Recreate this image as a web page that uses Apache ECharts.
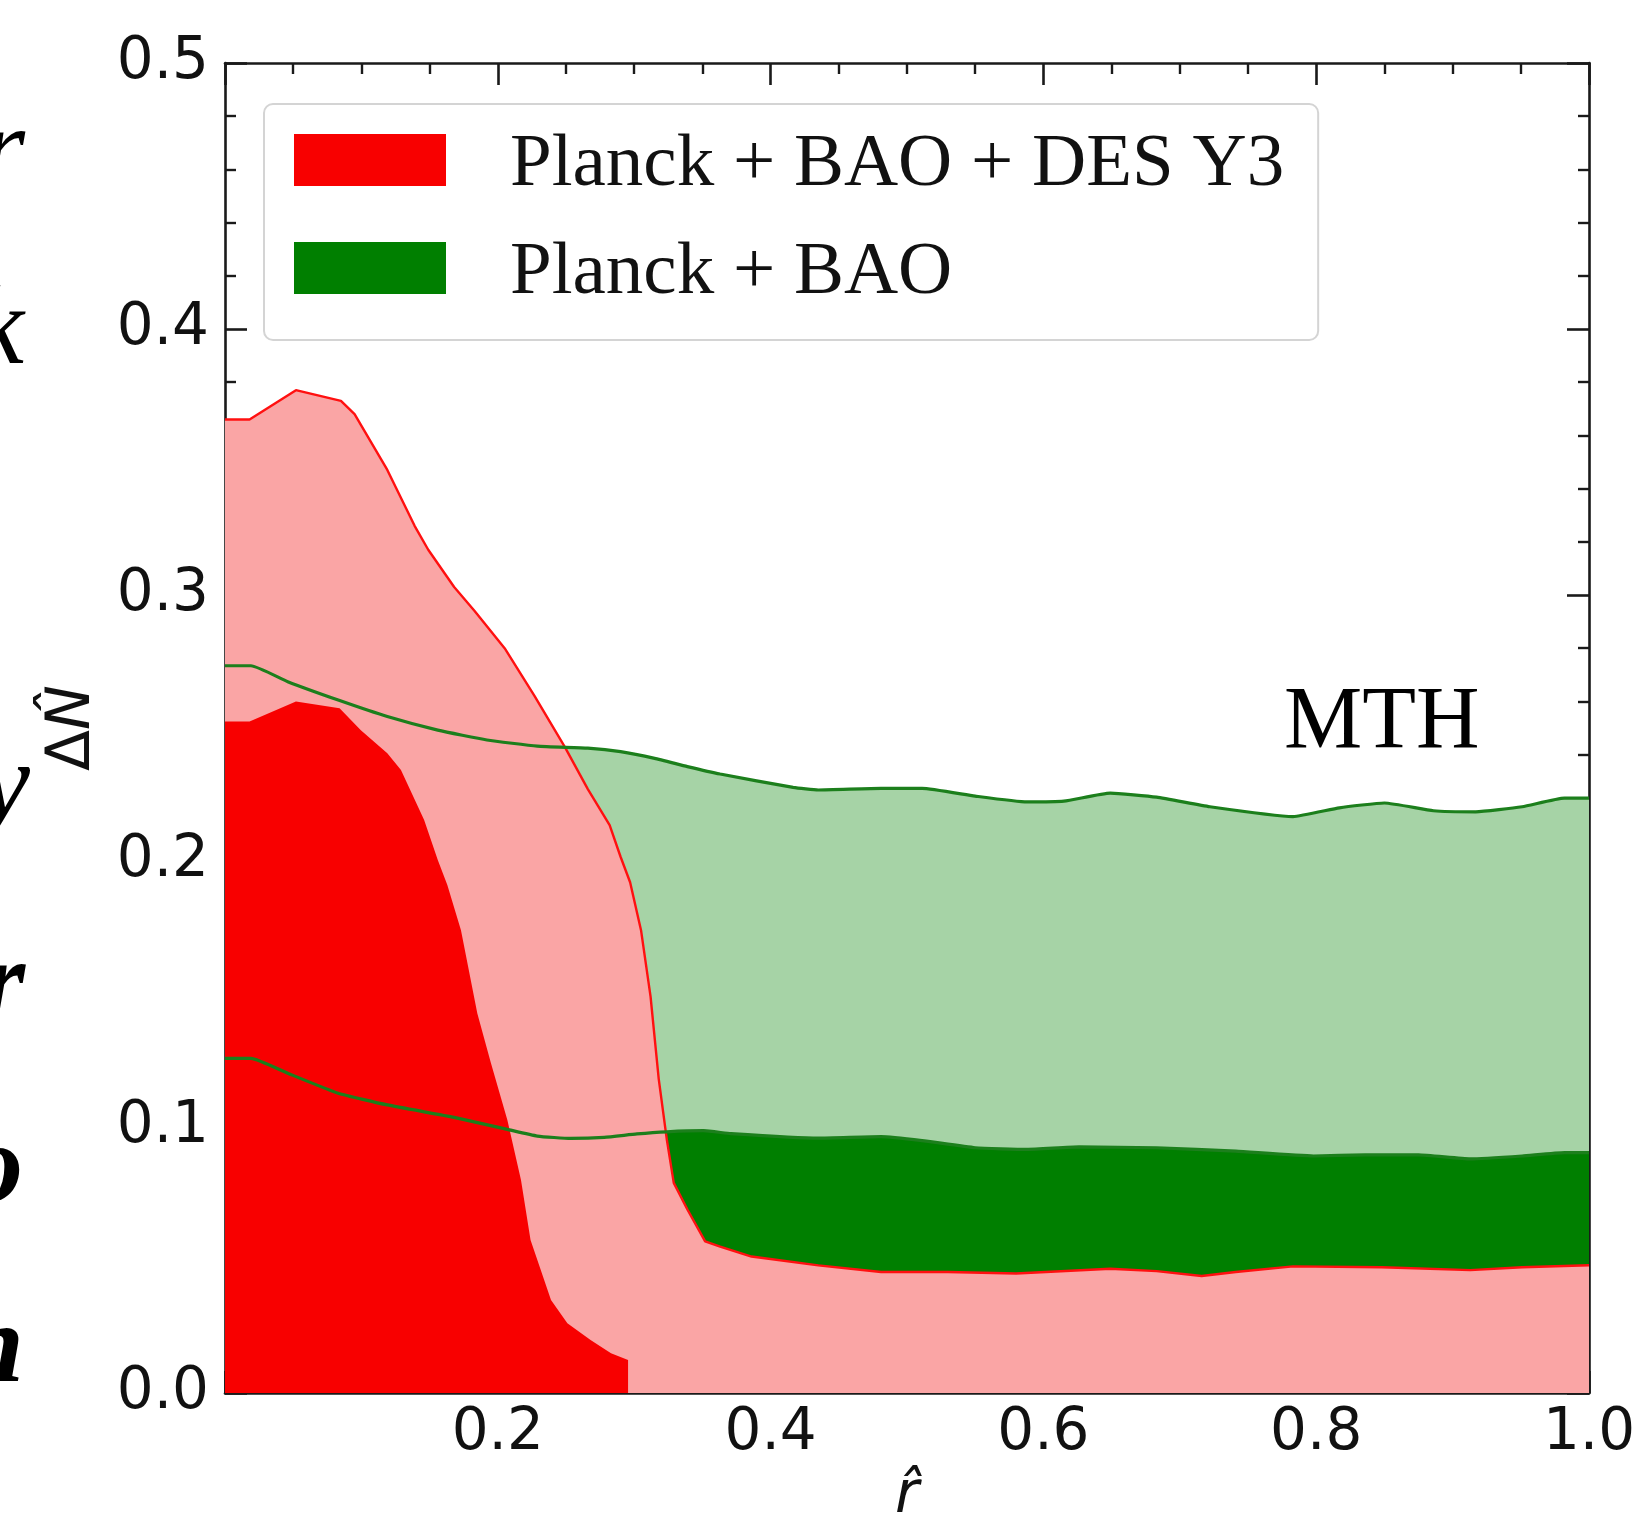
<!DOCTYPE html>
<html>
<head>
<meta charset="utf-8">
<script src="https://cdn.jsdelivr.net/npm/echarts@6/dist/echarts.min.js"></script>
<style>
html,body{margin:0;padding:0;background:#fff;overflow:hidden;}
#chart{width:1635px;height:1513px;}
</style>
</head>
<body>
<div id="chart"></div>
<script>
// ---- data (r-hat, Delta N-hat) ----
var redOuterR = [0.0, 0.018, 0.052, 0.085, 0.095, 0.119, 0.139, 0.149, 0.168, 0.183, 0.205, 0.227, 0.249, 0.266, 0.282, 0.290, 0.297, 0.305, 0.312, 0.318, 0.324, 0.329, 0.339, 0.352, 0.363, 0.386, 0.435, 0.481, 0.53, 0.58, 0.649, 0.683, 0.716, 0.741, 0.783, 0.848, 0.913, 0.951, 1.0];
var redOuterN = [0.366, 0.366, 0.377, 0.373, 0.368, 0.347, 0.326, 0.317, 0.303, 0.294, 0.280, 0.262, 0.243, 0.227, 0.2135, 0.2016, 0.192, 0.174, 0.149, 0.118, 0.095, 0.079, 0.069, 0.057, 0.055, 0.0513, 0.048, 0.0455, 0.0455, 0.0449, 0.0467, 0.0458, 0.044, 0.0455, 0.0476, 0.0473, 0.0462, 0.0473, 0.048];

var redInnerR = [0.0, 0.018, 0.052, 0.084, 0.0996, 0.119, 0.129, 0.146, 0.156, 0.163, 0.173, 0.185, 0.195, 0.207, 0.217, 0.224, 0.239, 0.251, 0.268, 0.283, 0.2955, 0.2955];
var redInnerN = [0.2524, 0.2524, 0.260, 0.2574, 0.2492, 0.2405, 0.2342, 0.2154, 0.2004, 0.191, 0.174, 0.1427, 0.124, 0.1026, 0.0801, 0.0575, 0.035, 0.0262, 0.0199, 0.0149, 0.0124, 0.0];

var greenUpperR = [0.0, 0.019, 0.046, 0.083, 0.119, 0.156, 0.192, 0.229, 0.266, 0.29, 0.315, 0.339, 0.363, 0.4165, 0.435, 0.481, 0.511, 0.55, 0.588, 0.615, 0.649, 0.683, 0.722, 0.783, 0.817, 0.85, 0.886, 0.917, 0.951, 0.982, 1.0];
var greenUpperN = [0.2734, 0.2734, 0.2674, 0.2605, 0.2543, 0.2492, 0.2455, 0.2432, 0.2424, 0.2411, 0.2386, 0.2355, 0.2327, 0.2277, 0.2267, 0.2273, 0.2273, 0.2244, 0.2222, 0.2225, 0.2255, 0.224, 0.2204, 0.2167, 0.22, 0.2218, 0.2189, 0.2185, 0.2204, 0.2236, 0.2236];

var greenMidR = [0.0, 0.019, 0.046, 0.083, 0.119, 0.168, 0.207, 0.229, 0.2535, 0.278, 0.302, 0.324, 0.351, 0.371, 0.435, 0.481, 0.511, 0.55, 0.588, 0.626, 0.683, 0.741, 0.798, 0.836, 0.875, 0.913, 0.951, 0.982, 1.0];
var greenMidN = [0.1258, 0.1258, 0.1202, 0.1127, 0.1083, 0.1036, 0.0991, 0.0966, 0.0957, 0.0961, 0.0974, 0.0982, 0.0986, 0.0975, 0.0958, 0.0964, 0.0949, 0.0922, 0.0916, 0.0925, 0.0922, 0.0909, 0.0891, 0.0895, 0.0895, 0.088, 0.0891, 0.0904, 0.0904];

var legendNames = ['Planck + BAO + DES Y3', 'Planck + BAO'];
var xTicks = [0.2, 0.4, 0.6, 0.8, 1.0];
var yTicks = [0.0, 0.1, 0.2, 0.3, 0.4, 0.5];
var annotation = 'MTH';
var edgeLetters = ['r', 'k', 'y', 'r', 'o', 'n'];

function pairs(xs, ys) { return xs.map(function (x, i) { return [x, ys[i]]; }); }

var C = {
  lightGreen: '#a6d3a6', darkGreen: '#007f00', lightRed: '#faa5a5', darkRed: '#f80000',
  redLine: '#ff1010', greenLine: '#1c7f1c', axis: '#1a1a1a'
};

var chart = echarts.init(document.getElementById('chart'), null, {renderer: 'canvas', width: 1635, height: 1513});

function baseAxisStyle() {
  return {
    axisLine: {show: true, onZero: false, lineStyle: {color: C.axis, width: 2.6}},
    axisTick: {show: true, inside: true, length: 22, lineStyle: {color: C.axis, width: 2.6}},
    splitLine: {show: false}
  };
}

var xMain = Object.assign(baseAxisStyle(), {
  type: 'value', min: 0, max: 1, interval: 0.2, position: 'bottom',
  minorTick: {show: true, splitNumber: 4, length: 11, lineStyle: {color: C.axis, width: 2.4}},
  axisLabel: {show: true, showMinLabel: false, margin: 12, color: '#111',
    fontFamily: 'DejaVu Sans', fontSize: 58,
    formatter: function (v) { return xTicks.some(function (t) { return Math.abs(t - v) < 1e-9; }) ? v.toFixed(1) : ''; }},
  name: 'r\u0302', nameLocation: 'middle', nameGap: 74,
  nameTextStyle: {fontFamily: 'DejaVu Sans', fontStyle: 'italic', fontSize: 58, color: '#111'}
});
var xTop = Object.assign(baseAxisStyle(), {
  type: 'value', min: 0, max: 1, interval: 0.2, position: 'top',
  minorTick: {show: true, splitNumber: 4, length: 11, lineStyle: {color: C.axis, width: 2.4}},
  axisLabel: {show: false}
});
var yMain = Object.assign(baseAxisStyle(), {
  type: 'value', min: 0, max: 0.5, interval: 0.1, position: 'left',
  minorTick: {show: true, splitNumber: 5, length: 11, lineStyle: {color: C.axis, width: 2.4}},
  axisLabel: {show: true, margin: 16, color: '#111', fontFamily: 'DejaVu Sans', fontSize: 58,
    formatter: function (v) { return yTicks.some(function (t) { return Math.abs(t - v) < 1e-9; }) ? v.toFixed(1) : ''; }},
  name: '{a|\u0394}{b|N\u0302}', nameLocation: 'middle', nameGap: 122, nameRotate: 90,
  nameTextStyle: {fontFamily: 'DejaVu Sans', fontSize: 60, color: '#111',
    rich: {a: {fontFamily: 'DejaVu Sans', fontSize: 60, color: '#111'},
           b: {fontFamily: 'DejaVu Sans', fontSize: 60, fontStyle: 'italic', color: '#111'}}}
});
var yRight = Object.assign(baseAxisStyle(), {
  type: 'value', min: 0, max: 0.5, interval: 0.1, position: 'right',
  minorTick: {show: true, splitNumber: 5, length: 11, lineStyle: {color: C.axis, width: 2.4}},
  axisLabel: {show: false}
});

function areaSeries(name, data, fill, lineColor, lineWidth, z) {
  return {
    type: 'line', name: name, data: data, xAxisIndex: 0, yAxisIndex: 0,
    showSymbol: false, symbol: 'none', smooth: false, silent: true, z: z,
    color: fill,
    itemStyle: {color: fill},
    lineStyle: {color: lineColor || fill, width: lineWidth || 0},
    areaStyle: {color: fill, opacity: 1, origin: 'start'}
  };
}
function lineSeries(name, data, color, width, z) {
  return {
    type: 'line', name: name, data: data, xAxisIndex: 0, yAxisIndex: 0,
    showSymbol: false, symbol: 'none', smooth: 0.15, silent: true, z: z,
    color: color, lineStyle: {color: color, width: width}
  };
}

var letterY = [155, 334, 790, 988, 1172, 1352];
var letterBold = [false, false, false, true, true, true];
var letterX = [25, 24, 30, 25, 23, 24];
var graphics = edgeLetters.map(function (ch, i) {
  return {
    type: 'text', x: letterX[i], y: letterY[i], silent: true,
    style: {text: ch, font: 'italic ' + (letterBold[i] ? 'bold ' : '') + '112px "Liberation Serif"',
            fill: '#000', align: 'right', verticalAlign: 'middle'}
  };
});
graphics.push({
  type: 'text', x: 1284, y: 724, silent: true, z: 50,
  style: {text: annotation, font: '88px "Liberation Serif"', fill: '#000', align: 'left', verticalAlign: 'middle'}
});

var option = {
  animation: false,
  backgroundColor: '#ffffff',
  grid: {left: 225, right: 46, top: 63, bottom: 120, containLabel: false, outerBoundsMode: 'none'},
  xAxis: [xMain, xTop],
  yAxis: [yMain, yRight],
  legend: {
    show: true, orient: 'vertical', left: 264, top: 104,
    data: [
      {name: legendNames[0], itemStyle: {color: C.darkRed, borderWidth: 0}},
      {name: legendNames[1], itemStyle: {color: C.darkGreen, borderWidth: 0}}
    ],
    icon: 'rect', itemWidth: 152, itemHeight: 52, itemGap: 33,
    padding: [23.5, 34, 29.5, 30],
    backgroundColor: 'rgba(255,255,255,0.85)', borderColor: '#d4d4d4', borderWidth: 2, borderRadius: 9,
    selectedMode: false,
    formatter: function (name) { return '{t|' + name + '}'; },
    textStyle: {fontFamily: 'Liberation Serif', fontSize: 75, color: '#111',
      rich: {t: {fontFamily: 'Liberation Serif', fontSize: 75, color: '#111', padding: [10, 0, 0, 59]}}}
  },
  graphic: graphics,
  series: [
    areaSeries('greenOuter', pairs(greenUpperR, greenUpperN), C.lightGreen, null, 0, 1),
    areaSeries(legendNames[1], pairs(greenMidR, greenMidN), C.darkGreen, null, 0, 2),
    areaSeries('redOuter', pairs(redOuterR, redOuterN), C.lightRed, C.redLine, 2.4, 3),
    areaSeries(legendNames[0], pairs(redInnerR, redInnerN), C.darkRed, null, 0, 4),
    lineSeries('greenUpperLine', pairs(greenUpperR, greenUpperN), C.greenLine, 3.2, 5),
    lineSeries('greenMidLine', pairs(greenMidR, greenMidN), C.greenLine, 3.2, 5)
  ]
};
chart.setOption(option);
</script>
</body>
</html>
